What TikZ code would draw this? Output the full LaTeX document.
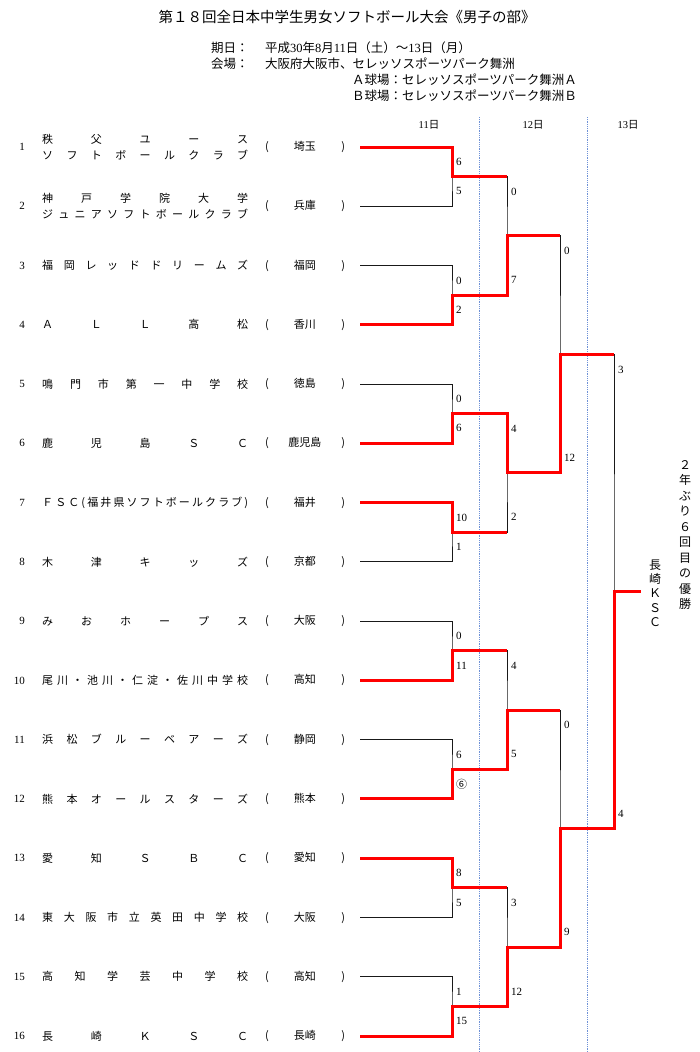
\documentclass[tikz,border=0pt]{standalone}
\usepackage{fontspec}
\setmainfont{Noto Sans CJK JP}
\newfontfamily\numfont{Liberation Serif}
\usetikzlibrary{calc}
\definecolor{sepblue}{RGB}{110,145,215}

% spread the letters of a name over the whole column
\def\spreadA#1#2{#1\ifx\relax#2\else\hfill\expandafter\spreadA\expandafter#2\fi}
\newcommand\spreadbox[1]{\hbox to 206pt{\expandafter\spreadA#1\relax}}

\begin{document}
\begin{tikzpicture}[x=1pt,y=-1pt,
		lose/.style={black!90,line width=1pt},
		win/.style={red,line width=3pt},
		sep/.style={sepblue,densely dotted,line width=0.8pt},
		num/.style={anchor=east,inner sep=0pt,font=\numfont\fontsize{11}{11}\selectfont},
		score/.style={anchor=west,inner sep=0pt,font=\numfont\fontsize{11}{11}\selectfont},
		team/.style={anchor=west,inner sep=0pt,align=left,font=\fontsize{11}{16}\selectfont},
		pref/.style={inner sep=0pt,font=\fontsize{11}{11}\selectfont},
		head/.style={anchor=west,inner sep=0pt,font=\fontsize{12.5}{13}\selectfont},
		day/.style={inner sep=0pt,font=\fontsize{10.5}{11}\selectfont},
		vtext/.style={inner sep=0pt,align=center}]
		\path[fill=white,use as bounding box] (0,0) rectangle (700,1052);

		\node[inner sep=0pt,font=\fontsize{14.5}{15}\selectfont] (title) at (347,17) {第１８回全日本中学生男女ソフトボール大会《男子の部》};
		\node[head] (datel) at (211,48) {期日：};
		\node[head] (datev) at (265,48) {平成{\numfont 30}年{\numfont 8}月{\numfont 11}日（土）～{\numfont 13}日（月）};
		\node[head] (placel) at (211,64) {会場：};
		\node[head] (placev) at (265,64) {大阪府大阪市、セレッソスポーツパーク舞洲};
		\node[head] (fielda) at (352,80) {Ａ球場：セレッソスポーツパーク舞洲Ａ};
		\node[head] (fieldb) at (352,96) {Ｂ球場：セレッソスポーツパーク舞洲Ｂ};

		\node[day] (d11) at (429,125) {{\numfont 11}日};
		\node[day] (d12) at (533,125) {{\numfont 12}日};
		\node[day] (d13) at (628,125) {{\numfont 13}日};
		\draw[sep] (479,117) -- (479,1052);
		\draw[sep] (587,117) -- (587,1052);

		% team rows and bracket points
		\foreach \i in {1,...,16} {
			\pgfmathsetmacro\y{147+(\i-1)*59.27}
			\coordinate (t\i) at (360,\y);
			\node[num] (n\i) at (25,\y) {\i};
		}
		\foreach \k in {1,...,8} \coordinate (a\k) at (452,{147+(2*\k-1.5)*59.27});
		\foreach \k in {1,...,4} \coordinate (b\k) at (507,{147+(4*\k-2.5)*59.27});
		\foreach \k in {1,2} \coordinate (c\k) at (560,{147+(8*\k-4.5)*59.27});
		\coordinate (f) at (614,{147+7.5*59.27});
		\coordinate (w) at (641,{147+7.5*59.27});

		\node[team] (tm1) at (42,147) {\spreadbox{秩父ユース}\\\spreadbox{ソフトボールクラブ}};
		\node[pref] (pf1) at (305,147) {\hbox to 80pt{(\hfill 埼玉\hfill)}};
		\node[team] (tm2) at (42,206.27) {\spreadbox{神戸学院大学}\\\spreadbox{ジュニアソフトボールクラブ}};
		\node[pref] (pf2) at (305,206.27) {\hbox to 80pt{(\hfill 兵庫\hfill)}};
		\foreach \i/\tname/\pname in {3/福岡レッドドリームズ/福岡,4/ＡＬＬ高松/香川,5/鳴門市第一中学校/徳島,
			6/鹿児島ＳＣ/鹿児島,7/ＦＳＣ(福井県ソフトボールクラブ)/福井,8/木津キッズ/京都,
			9/みおホープス/大阪,10/尾川・池川・仁淀・佐川中学校/高知,11/浜松ブルーベアーズ/静岡,
			12/熊本オールスターズ/熊本,13/愛知ＳＢＣ/愛知,14/東大阪市立英田中学校/大阪,
			15/高知学芸中学校/高知,16/長崎ＫＳＣ/長崎} {
			\pgfmathsetmacro\y{147+(\i-1)*59.27}
			\node[team] (tm\i) at (42,\y) {\spreadbox{\tname}};
			\node[pref] (pf\i) at (305,\y) {\hbox to 80pt{(\hfill\pname\hfill)}};
		}

		% whole bracket in thin lines
		\foreach \k in {1,...,8} {
			\pgfmathtruncatemacro\u{2*\k-1}
			\pgfmathtruncatemacro\v{2*\k}
			\draw[lose] (t\u) -| (a\k) |- (t\v);
		}
		\foreach \k in {1,...,4} {
			\pgfmathtruncatemacro\u{2*\k-1}
			\pgfmathtruncatemacro\v{2*\k}
			\draw[lose] (a\u) -| (b\k) |- (a\v);
		}
		\draw[lose] (b1) -| (c1) |- (b2) (b3) -| (c2) |- (b4) (c1) -| (f) |- (c2);

		% winners
		\draw[win] (t1) -| (a1) -- (a1 -| b1);
		\draw[win] (t4) -| (a2) -| (b1) -- (b1 -| c1);
		\draw[win] (t6) -| (a3) -| (b2) -| (c1) -- (c1 -| f);
		\draw[win] (t7) -| (a4) -- (a4 -| b2);
		\draw[win] (t10) -| (a5) -- (a5 -| b3);
		\draw[win] (t12) -| (a6) -| (b3) -- (b3 -| c2);
		\draw[win] (t13) -| (a7) -- (a7 -| b4);
		\draw[win] (t16) -| (a8) -| (b4) -| (c2) -| (f) -- (w);

		% scores
		\foreach \k/\p/\q in {1/6/5,2/0/2,3/0/6,4/10/1,5/0/11,6/6/{\normalfont ⑥},7/8/5,8/1/15} {
			\pgfmathtruncatemacro\u{2*\k-1}
			\pgfmathtruncatemacro\v{2*\k}
			\node[score] (sa\k) at ($(t\u -| a\k)+(4,15)$) {\p};
			\node[score] (sb\k) at ($(t\v -| a\k)+(4,-15)$) {\q};
		}
		\foreach \k/\p/\q in {1/0/7,2/4/2,3/4/5,4/3/12} {
			\pgfmathtruncatemacro\u{2*\k-1}
			\pgfmathtruncatemacro\v{2*\k}
			\node[score] (sc\k) at ($(a\u -| b\k)+(4,15)$) {\p};
			\node[score] (sd\k) at ($(a\v -| b\k)+(4,-15)$) {\q};
		}
		\foreach \k/\p/\q in {1/0/12,2/0/9} {
			\pgfmathtruncatemacro\u{2*\k-1}
			\pgfmathtruncatemacro\v{2*\k}
			\node[score] (se\k) at ($(b\u -| c\k)+(4,15)$) {\p};
			\node[score] (sf\k) at ($(b\v -| c\k)+(4,-15)$) {\q};
		}
		\node[score] (sg) at ($(c1 -| f)+(4,15)$) {3};
		\node[score] (sh) at ($(c2 -| f)+(4,-15)$) {4};

		\node[vtext,font=\fontsize{12}{14.3}\selectfont] (champ) at (655,593) {長\\崎\\Ｋ\\Ｓ\\Ｃ};
		\node[vtext,font=\fontsize{12}{15.5}\selectfont] (note) at (685,535) {２\\年\\ぶ\\り\\６\\回\\目\\の\\優\\勝};
\end{tikzpicture}
\end{document}
